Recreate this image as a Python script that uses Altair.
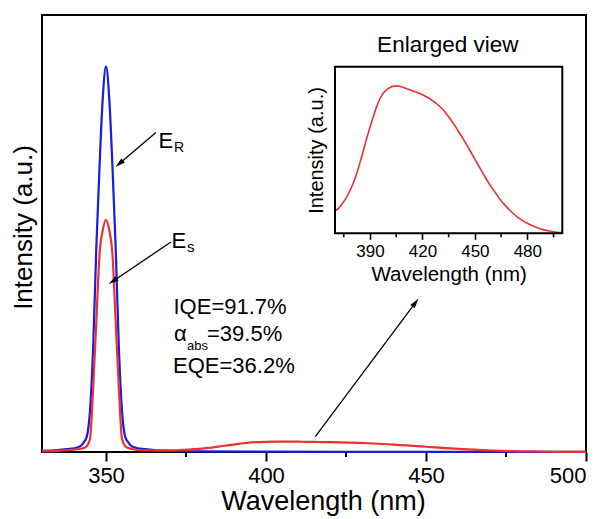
import math
import altair as alt
import pandas as pd

# ---------------- data ----------------
# E_R : reference (blue) spectrum, arbitrary units
wl_blue = [330, 335, 338, 340, 342, 343, 344, 345, 346, 347, 348, 349, 350, 351, 352,
           353, 354, 355, 356, 357, 358, 360, 362, 365, 370, 380, 400, 450, 500]
int_blue = [100, 160, 250, 320, 500, 800, 1300, 3500, 9000, 17500, 24300, 30000, 32650,
            30000, 24300, 17500, 9000, 3500, 1300, 800, 500, 320, 250, 160, 100, 50, 25, 15, 10]

# E_s : sample (red) spectrum, arbitrary units
wl_red = [330, 335, 338, 340, 342, 343, 344, 345, 346, 347, 348, 349, 350, 351, 352, 353,
          354, 355, 356, 357, 358, 360, 363, 366, 370, 372, 374, 376, 378, 380, 382, 385,
          388, 391, 394, 397, 400, 403, 405, 408, 411, 414, 417, 420, 423, 426, 429, 432,
          435, 438, 441, 444, 447, 450, 453, 456, 459, 462, 465, 468, 471, 474, 477, 480,
          483, 486, 489, 492, 495, 498, 500]
int_red = [60, 100, 150, 200, 280, 330, 500, 1100, 5500, 11200, 16800, 18800, 19650, 18800,
           16800, 11200, 5500, 1100, 500, 330, 250, 170, 140, 130, 135, 150, 175, 205, 245,
           290, 345, 450, 565, 670, 765, 832, 865, 882, 885, 880, 868, 856, 845, 832, 815,
           795, 770, 740, 700, 655, 605, 555, 500, 445, 390, 335, 285, 240, 195, 160, 128,
           100, 78, 60, 45, 32, 22, 15, 9, 5, 4]

main_major_ticks = [350, 400, 450, 500]
main_minor_ticks = [375, 425, 475]
inset_major_ticks = [390, 420, 450, 480]
inset_minor_ticks = [375, 405, 435, 465, 495]

# annotation arrows (data coordinates of the main plot)
arrow_start_x = [365.6, 370.3, 415.4]
arrow_start_y = [27050, 17780, 1300]
arrow_tip_x = [352.97, 350.84, 447.66]
arrow_tip_y = [24130, 14220, 12990]

# annotation texts (left x, baseline y in main-plot data coordinates)
label_text = ["E", "R", "E", "s", "IQE=91.7%", "α", "abs", "=39.5%", "EQE=36.2%"]
label_x = [366.41, 371.25, 370.47, 375.31, 371.09, 371.25, 375.31, 381.56, 370.94]
label_y = [25739, 25400, 17230, 16950, 11684, 9398, 8636, 9398, 6731]
label_size = [22, 14, 22, 15, 22, 22, 13, 22, 22]

# ---------------- styling / layout ----------------
FONT = "Liberation Sans"
BLUE = "#1a1ae0"
RED = "#ee3030"
W, H = 544, 437
X_DOM = [330, 500]
Y_DOM = [0, 37000]
INS_X_DOM = [370, 500]
INS_Y_DOM = [0, 1000]
INS_X_RANGE = [293, 520.3]
INS_Y_RANGE = [218.3, 51.7]

px_x = W / (X_DOM[1] - X_DOM[0])
px_y = H / (Y_DOM[1] - Y_DOM[0])

rows = []
for sx, sy, tx, ty in zip(arrow_start_x, arrow_start_y, arrow_tip_x, arrow_tip_y):
    dx = (tx - sx) * px_x
    dy = -(ty - sy) * px_y
    L = math.hypot(dx, dy)
    ux, uy = dx / L, dy / L
    ang = math.degrees(math.atan2(dx, -dy)) % 360
    rows.append(dict(sx=sx, sy=sy, ex=tx - 6 * ux / px_x, ey=ty + 6 * uy / px_y,
                     tx=tx, ty=ty, ang=ang))
arrow_df = pd.DataFrame(rows)

blue_df = pd.DataFrame({"wl": wl_blue, "I": int_blue})
red_df = pd.DataFrame({"wl": wl_red, "I": int_red})
label_df = pd.DataFrame({"x": label_x, "y": label_y, "t": label_text, "fs": label_size})


def xs():
    return alt.Scale(domain=X_DOM, range=[0, W], nice=False, zero=False)


def ys():
    return alt.Scale(domain=Y_DOM, range=[H, 0], nice=False, zero=False)


def ixs():
    return alt.Scale(domain=INS_X_DOM, range=INS_X_RANGE, nice=False, zero=False)


def iys():
    return alt.Scale(domain=INS_Y_DOM, range=INS_Y_RANGE, nice=False, zero=False)


x_axis = alt.Axis(
    orient="bottom",
    values=main_major_ticks,
    tickSize=9, tickWidth=2, tickColor="black", domain=False, grid=False,
    labelFontSize=22, labelPadding=4,
    title="Wavelength (nm)", titleFontSize=27, titleX=281, titleY=57,
    titleBaseline="alphabetic", titleAlign="center",
)
y_axis = alt.Axis(
    orient="left",
    labels=False, ticks=False, domain=False, grid=False,
    title="Intensity (a.u.)", titleFontSize=26, titleX=-11, titleY=212,
    titleBaseline="alphabetic", titleAlign="center", titleAngle=270,
)

blue = alt.Chart(blue_df).mark_line(color=BLUE, strokeWidth=2.2, interpolate="monotone").encode(
    x=alt.X("wl:Q", scale=xs(), axis=x_axis),
    y=alt.Y("I:Q", scale=ys(), axis=y_axis),
)
red = alt.Chart(red_df).mark_line(color=RED, strokeWidth=2.2, interpolate="monotone").encode(
    x=alt.X("wl:Q", scale=xs(), axis=None),
    y=alt.Y("I:Q", scale=ys(), axis=None),
)
minor = alt.Chart(pd.DataFrame({"v": main_minor_ticks})).mark_rule(color="black", strokeWidth=2).encode(
    x=alt.X("v:Q", scale=xs(), axis=None),
    y=alt.value(H), y2=alt.value(H + 5),
)
rules = alt.Chart(arrow_df).mark_rule(color="black", strokeWidth=1.3).encode(
    x=alt.X("sx:Q", scale=xs(), axis=None),
    y=alt.Y("sy:Q", scale=ys(), axis=None),
    x2="ex:Q", y2="ey:Q",
)
heads = alt.Chart(arrow_df).mark_point(
    shape="M0,0L0.55,2L-0.55,2Z", filled=True, size=100, color="black", opacity=1, strokeWidth=0
).encode(
    x=alt.X("tx:Q", scale=xs(), axis=None),
    y=alt.Y("ty:Q", scale=ys(), axis=None),
    angle=alt.Angle("ang:Q", scale=None),
)
texts = alt.Chart(label_df).mark_text(align="left", baseline="alphabetic", font=FONT, color="black").encode(
    x=alt.X("x:Q", scale=xs(), axis=None),
    y=alt.Y("y:Q", scale=ys(), axis=None),
    text="t:N",
    size=alt.Size("fs:Q", scale=None),
)

# ---------------- inset ----------------
ins_x_axis = alt.Axis(
    orient="bottom", offset=INS_Y_RANGE[0] - H,
    values=inset_major_ticks,
    tickSize=6, tickWidth=1.6, tickColor="black", domain=False, grid=False,
    labelFontSize=17, labelPadding=4,
    title="Wavelength (nm)", titleFontSize=20.5, titleY=47,
    titleBaseline="alphabetic",
)
ins_y_axis = alt.Axis(
    orient="left", offset=-INS_X_RANGE[0],
    labels=False, ticks=False, domain=False, grid=False,
    title="Intensity (a.u.)", titleFontSize=20, titleX=-12.5,
    titleBaseline="alphabetic", titleAngle=270,
)

frame_df = pd.DataFrame({"x1": [INS_X_DOM[0]], "x2": [INS_X_DOM[1]],
                         "y1": [INS_Y_DOM[0]], "y2": [INS_Y_DOM[1]]})
ins_frame = alt.Chart(frame_df).mark_rect(fillOpacity=0, stroke="black", strokeWidth=2).encode(
    x=alt.X("x1:Q", scale=ixs(), axis=None), x2="x2:Q",
    y=alt.Y("y1:Q", scale=iys(), axis=None), y2="y2:Q",
)
ins_minor = alt.Chart(pd.DataFrame({"v": inset_minor_ticks})).mark_rule(color="black", strokeWidth=1.6).encode(
    x=alt.X("v:Q", scale=ixs(), axis=None),
    y=alt.value(INS_Y_RANGE[0]), y2=alt.value(INS_Y_RANGE[0] + 4),
)
ins_line = alt.Chart(red_df).transform_filter("datum.wl >= 370").mark_line(
    color=RED, strokeWidth=1.6, interpolate="monotone"
).encode(
    x=alt.X("wl:Q", scale=ixs(), axis=ins_x_axis),
    y=alt.Y("I:Q", scale=iys(), axis=ins_y_axis),
)
ins_title_df = pd.DataFrame({"x": [434.5], "y": [1090], "t": ["Enlarged view"]})
ins_title = alt.Chart(ins_title_df).mark_text(
    align="center", baseline="alphabetic", font=FONT, fontSize=22.5, color="black"
).encode(
    x=alt.X("x:Q", scale=ixs(), axis=None),
    y=alt.Y("y:Q", scale=iys(), axis=None),
    text="t:N",
)

chart = alt.layer(
    blue, red, minor, rules, heads, texts, ins_line, ins_frame, ins_minor, ins_title
).resolve_scale(
    x="independent", y="independent"
).resolve_axis(
    x="independent", y="independent"
).properties(
    width=W, height=H,
    padding={"left": 42, "top": 15, "right": 21, "bottom": 67},
    autosize=alt.AutoSizeParams(type="none"),
    background="white",
).configure_view(
    stroke="black", strokeWidth=2
).configure_axis(
    labelFont=FONT, titleFont=FONT, labelColor="black", titleColor="black",
    titleFontWeight="normal", grid=False,
)

chart.save("out.html", embed_options={"renderer": "svg", "actions": False})
